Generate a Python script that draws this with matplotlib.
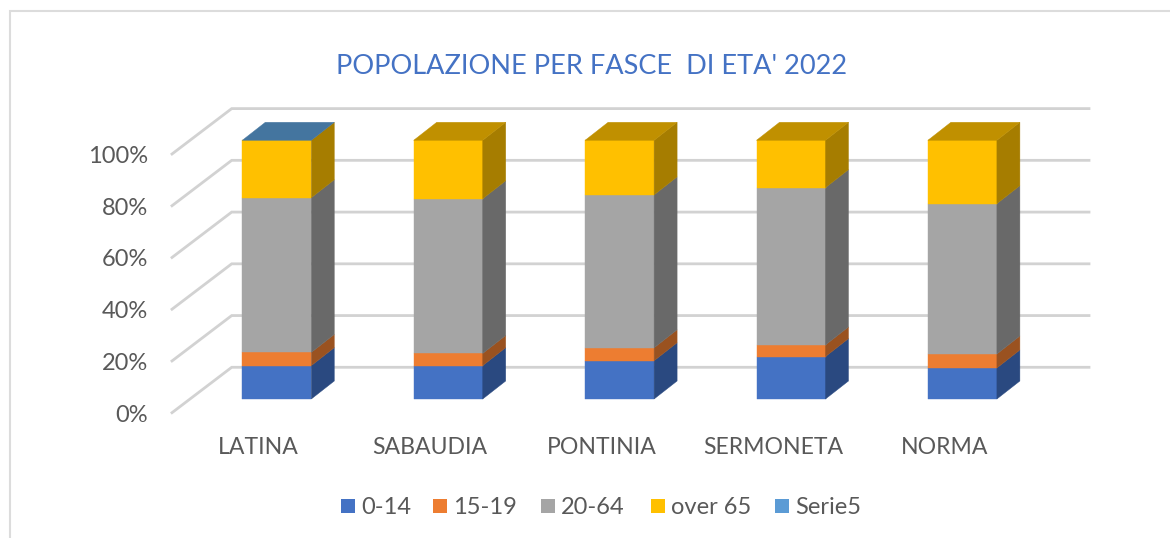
#!/usr/bin/env python
"""
Popolazione per fasce di eta' 2022 - stacked columns with a 3D look
"""
import matplotlib
matplotlib.use('Agg')
import matplotlib.pyplot as plt
from matplotlib.patches import Polygon, Rectangle

comuni = ['LATINA', 'SABAUDIA', 'PONTINIA', 'SERMONETA', 'NORMA']
fasce = ['0-14', '15-19', '20-64', 'over 65', 'Serie5']
v_0_14 = [12.9, 12.9, 14.8, 16.4, 12.0]
v_15_19 = [5.1, 4.7, 5.0, 4.5, 5.4]
v_20_64 = [59.8, 59.8, 59.1, 60.8, 58.1]
v_over65 = [22.2, 22.6, 21.1, 18.3, 24.5]
v_serie5 = [0, 0, 0, 0, 0]
ticks = [0, 20, 40, 60, 80, 100]

colori = ['#4472C4', '#ED7D31', '#A5A5A5', '#FFC000', '#5B9BD5']
lati = ['#2A4980', '#9A5220', '#696969', '#A67D00', '#3B6A8F']
top_colori = ['#44759F', '#C09000', '#C09000', '#C09000', '#C09000']

TESTO = '#595959'
GRID = '#d2d2d2'
plt.rcParams['font.family'] = ['Lato', 'DejaVu Sans']

# pixel layout of the 3D box
Y0 = 399.0
H = 258.7
BAR_X = 242.3
BAR_W = 69.0
STEP = 171.4
DX, DY = 23.0, 18.0
WALL_X, WALL_Y = 172.0, 412.7
BACK_X, BACK_Y = 231.7, 367.3
GRID_END = 1089.0

fig = plt.figure(figsize=(11.7, 5.38), dpi=100)
ax = fig.add_axes([0, 0, 1, 1])
ax.set_xlim(0, 1170)
ax.set_ylim(538, 0)
ax.axis('off')


def ypix(p):
	return Y0 - H * p / 100.0


# chart border, only left and top are inside the crop
ax.plot([9.5, 9.5, 1170], [538, 11, 11], color='#dcdcdc', lw=1.5, solid_joinstyle='miter', zorder=1)

for t in ticks:
	off = H * t / 100.0
	ax.plot([WALL_X, BACK_X, GRID_END], [WALL_Y - off, BACK_Y - off, BACK_Y - off],
		color=GRID, lw=2.0, solid_joinstyle='miter', zorder=1)
	ax.text(148, WALL_Y - off + 2.5, '%d%%' % t, ha='right', va='center', fontsize=17, color=TESTO)

serie = [v_0_14, v_15_19, v_20_64, v_over65, v_serie5]
for i, nome in enumerate(comuni):
	x = BAR_X + STEP * i
	base = 0.0
	for s, vals in enumerate(serie):
		v = vals[i]
		if v <= 0:
			continue
		y1, y2 = ypix(base), ypix(base + v)
		ax.add_patch(Polygon([(x, y1), (x + BAR_W, y1), (x + BAR_W, y2), (x, y2)],
			fc=colori[s], ec=colori[s], lw=0.3, zorder=3))
		ax.add_patch(Polygon([(x + BAR_W, y1), (x + BAR_W + DX, y1 - DY), (x + BAR_W + DX, y2 - DY), (x + BAR_W, y2)],
			fc=lati[s], ec=lati[s], lw=0.3, zorder=3))
		base += v
	yt = ypix(base)
	ax.add_patch(Polygon([(x, yt), (x + BAR_W, yt), (x + BAR_W + DX, yt - DY), (x + DX, yt - DY)],
		fc=top_colori[i], ec=top_colori[i], lw=0.3, zorder=3))
	ax.text(x + BAR_W / 2 - 18, 447.5, nome, ha='center', va='center', fontsize=16.6, color=TESTO)

ax.text(592, 67, "POPOLAZIONE PER FASCE  DI ETA' 2022", ha='center', va='center', fontsize=19.5, color='#4472C4')

leg_x = [341, 433, 541, 651, 775]
for lx, nome, col in zip(leg_x, fasce, colori):
	ax.add_patch(Rectangle((lx, 499), 14, 14, fc=col, ec='none'))
	ax.text(lx + 20, 507.5, nome, ha='left', va='center', fontsize=17, color=TESTO)

fig.savefig('out.png', dpi=100)
